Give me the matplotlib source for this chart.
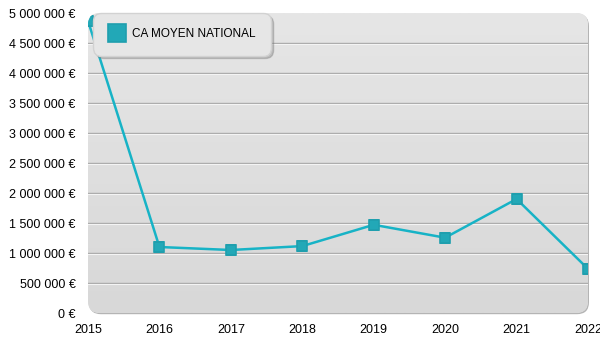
import numpy as np
import matplotlib
matplotlib.use("Agg")
import matplotlib.pyplot as plt
from matplotlib.patches import FancyBboxPatch
from matplotlib.lines import Line2D

plt.rcParams['font.family'] = ['Liberation Sans', 'DejaVu Sans']

years = [2015, 2016, 2017, 2018, 2019, 2020, 2021, 2022]
ca_moyen = [4870000, 1100000, 1050000, 1115000, 1470000, 1255000, 1900000, 735000]
y_ticks = np.arange(0, 5000001, 500000)
series_label = "CA MOYEN NATIONAL"

line_color = "#17b3c6"
marker_color = "#22a8b7"

fig = plt.figure(figsize=(6, 3.5), dpi=100)
ax = fig.add_axes([88 / 600, 37 / 350, 500 / 600, 300 / 350])
ax.set_xlim(2015, 2022)
ax.set_ylim(0, 5000000)
ax.patch.set_visible(False)
for s in ax.spines.values():
    s.set_visible(False)

# rounded plot background with a soft shadow on the right / bottom
shadow = FancyBboxPatch((0.002, -0.004), 1.0, 1.0, boxstyle="round,pad=0,rounding_size=0.024",
                        mutation_aspect=500 / 300, transform=ax.transAxes,
                        facecolor="#b4b4b4", edgecolor="none", zorder=0, clip_on=False)
ax.add_patch(shadow)
bg = FancyBboxPatch((0, 0), 1.0, 1.0, boxstyle="round,pad=0,rounding_size=0.024",
                    mutation_aspect=500 / 300, transform=ax.transAxes,
                    facecolor="#e0e0e0", edgecolor="none", zorder=0.5, clip_on=False)
ax.add_patch(bg)
grad = np.linspace(0, 1, 256).reshape(-1, 1)
img = ax.imshow(grad, extent=[0, 1, 0, 1], transform=ax.transAxes, aspect="auto",
                cmap=matplotlib.colors.LinearSegmentedColormap.from_list("g", ["#d8d8d8", "#e6e6e6"]),
                origin="lower", zorder=0.6, interpolation="bilinear")
img.set_clip_path(bg)
ax.set_xlim(2015, 2022)
ax.set_ylim(0, 5000000)

# grid lines (gray with a white highlight underneath)
for v in y_ticks[1:-1]:
    ax.axhline(v, color="#a9a9a9", lw=1.0, zorder=1)
    ax.axhline(v - 16000, color="#f4f4f4", lw=0.8, zorder=1)

ln, = ax.plot(years, ca_moyen, color=line_color, lw=1.8, marker="s", markersize=7.5,
              markerfacecolor=marker_color, markeredgecolor="#1f9fae", markeredgewidth=1.2,
              zorder=3)
ln.set_clip_path(bg)

ax.set_yticks(y_ticks)
ax.set_yticklabels([f"{v:,.0f} €".replace(",", " ") for v in y_ticks])
ax.set_xticks(years)
ax.set_xticklabels([str(y) for y in years])
ax.tick_params(axis="both", length=0, labelsize=9, colors="black")
ax.tick_params(axis="y", pad=9)
ax.tick_params(axis="x", pad=8)

handle = Line2D([], [], ls="none", marker="s", markersize=13.5, markerfacecolor=marker_color,
                markeredgecolor="#1f9fae", markeredgewidth=1.2)
leg = ax.legend([handle], [series_label], loc="upper left", bbox_to_anchor=(0.01, 1.0),
                borderaxespad=0, fontsize=8.5, frameon=True, fancybox=True,
                shadow={"color": "#777777", "alpha": 0.35},
                borderpad=1.3, handletextpad=0.5, handlelength=1.5)
leg.get_frame().set_facecolor("#e6e6e6")
leg.get_frame().set_edgecolor("#d2d2d2")
leg.get_frame().set_alpha(1)
leg.get_frame().set_boxstyle("round", pad=0, rounding_size=0.7)
leg.set_zorder(5)

fig.savefig("out.png", dpi=100)
